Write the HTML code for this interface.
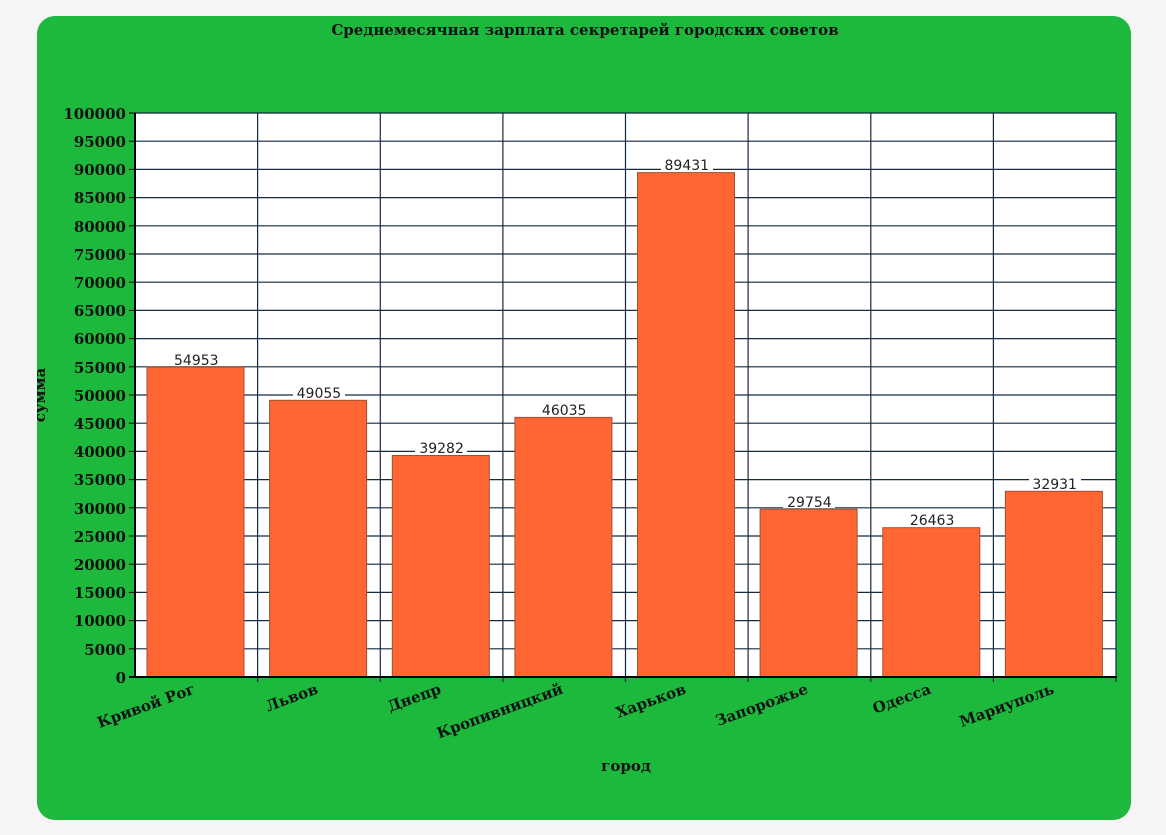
<!DOCTYPE html>
<html><head><meta charset="utf-8"><style>
html,body{margin:0;padding:0;background:#f5f5f5;width:1166px;height:835px;overflow:hidden}
svg{display:block}
.t{font-family:"DejaVu Serif","Liberation Serif",serif;font-weight:bold;fill:#111}
.v{font-family:"DejaVu Sans","Liberation Sans",sans-serif;font-size:14px;fill:#222}
</style></head><body>
<svg width="1166" height="835" xmlns="http://www.w3.org/2000/svg">
<rect x="37" y="16" width="1094" height="804" rx="18" fill="#1cb93c"/>
<text class="t" x="585" y="35" font-size="15" text-anchor="middle">Среднемесячная зарплата секретарей городских советов</text>
<rect x="135" y="113" width="981" height="564" fill="#fff"/>
<g stroke="#132a40" stroke-width="1.2">
<line x1="135" x2="1116" y1="113" y2="113"/><line x1="135" x2="1116" y1="141.2" y2="141.2"/><line x1="135" x2="1116" y1="169.4" y2="169.4"/><line x1="135" x2="1116" y1="197.6" y2="197.6"/><line x1="135" x2="1116" y1="225.8" y2="225.8"/><line x1="135" x2="1116" y1="254" y2="254"/><line x1="135" x2="1116" y1="282.2" y2="282.2"/><line x1="135" x2="1116" y1="310.4" y2="310.4"/><line x1="135" x2="1116" y1="338.6" y2="338.6"/><line x1="135" x2="1116" y1="366.8" y2="366.8"/><line x1="135" x2="1116" y1="395" y2="395"/><line x1="135" x2="1116" y1="423.2" y2="423.2"/><line x1="135" x2="1116" y1="451.4" y2="451.4"/><line x1="135" x2="1116" y1="479.6" y2="479.6"/><line x1="135" x2="1116" y1="507.8" y2="507.8"/><line x1="135" x2="1116" y1="536" y2="536"/><line x1="135" x2="1116" y1="564.2" y2="564.2"/><line x1="135" x2="1116" y1="592.4" y2="592.4"/><line x1="135" x2="1116" y1="620.6" y2="620.6"/><line x1="135" x2="1116" y1="648.8" y2="648.8"/>
<line x1="257.6" x2="257.6" y1="113" y2="682"/><line x1="380.3" x2="380.3" y1="113" y2="682"/><line x1="502.9" x2="502.9" y1="113" y2="682"/><line x1="625.5" x2="625.5" y1="113" y2="682"/><line x1="748.1" x2="748.1" y1="113" y2="682"/><line x1="870.8" x2="870.8" y1="113" y2="682"/><line x1="993.4" x2="993.4" y1="113" y2="682"/><line x1="1116" x2="1116" y1="113" y2="682"/>
</g>
<g stroke="#000" stroke-width="1">
<line x1="129" x2="135" y1="113" y2="113"/><line x1="129" x2="135" y1="141.2" y2="141.2"/><line x1="129" x2="135" y1="169.4" y2="169.4"/><line x1="129" x2="135" y1="197.6" y2="197.6"/><line x1="129" x2="135" y1="225.8" y2="225.8"/><line x1="129" x2="135" y1="254" y2="254"/><line x1="129" x2="135" y1="282.2" y2="282.2"/><line x1="129" x2="135" y1="310.4" y2="310.4"/><line x1="129" x2="135" y1="338.6" y2="338.6"/><line x1="129" x2="135" y1="366.8" y2="366.8"/><line x1="129" x2="135" y1="395" y2="395"/><line x1="129" x2="135" y1="423.2" y2="423.2"/><line x1="129" x2="135" y1="451.4" y2="451.4"/><line x1="129" x2="135" y1="479.6" y2="479.6"/><line x1="129" x2="135" y1="507.8" y2="507.8"/><line x1="129" x2="135" y1="536" y2="536"/><line x1="129" x2="135" y1="564.2" y2="564.2"/><line x1="129" x2="135" y1="592.4" y2="592.4"/><line x1="129" x2="135" y1="620.6" y2="620.6"/><line x1="129" x2="135" y1="648.8" y2="648.8"/>
</g>
<g fill="#ff6633" stroke="#a05030" stroke-width="1">
<rect x="147" y="367.1" width="97" height="309.9"/>
<rect x="269.6" y="400.3" width="97" height="276.7"/>
<rect x="392.3" y="455.5" width="97" height="221.5"/>
<rect x="514.9" y="417.4" width="97" height="259.6"/>
<rect x="637.5" y="172.6" width="97" height="504.4"/>
<rect x="760.1" y="509.2" width="97" height="167.8"/>
<rect x="882.8" y="527.7" width="97" height="149.3"/>
<rect x="1005.4" y="491.3" width="97" height="185.7"/>
</g>
<g stroke="#000" stroke-width="2"><line x1="135" x2="135" y1="113" y2="678"/><line x1="129" x2="1117" y1="677" y2="677"/></g>
<g fill="#fff">
<rect x="170" y="352" width="52" height="14"/><rect x="293" y="385" width="52" height="14"/><rect x="415" y="440" width="52" height="14"/><rect x="538" y="402" width="52" height="14"/><rect x="661" y="157" width="52" height="14"/><rect x="783" y="494" width="52" height="14"/><rect x="906" y="512" width="52" height="14"/><rect x="1029" y="476" width="52" height="14"/>
</g>
<g class="v" text-anchor="middle">
<text x="196.3" y="365">54953</text><text x="318.9" y="398">49055</text><text x="441.6" y="453">39282</text><text x="564.2" y="415">46035</text><text x="686.8" y="170">89431</text><text x="809.4" y="507">29754</text><text x="932.1" y="525">26463</text><text x="1054.7" y="489">32931</text>
</g>
<g class="t" font-size="15" text-anchor="end">
<text x="126" y="119">100000</text><text x="126" y="147">95000</text><text x="126" y="175">90000</text><text x="126" y="203">85000</text><text x="126" y="232">80000</text><text x="126" y="260">75000</text><text x="126" y="288">70000</text><text x="126" y="316">65000</text><text x="126" y="344">60000</text><text x="126" y="373">55000</text><text x="126" y="401">50000</text><text x="126" y="429">45000</text><text x="126" y="457">40000</text><text x="126" y="485">35000</text><text x="126" y="514">30000</text><text x="126" y="542">25000</text><text x="126" y="570">20000</text><text x="126" y="598">15000</text><text x="126" y="626">10000</text><text x="126" y="655">5000</text><text x="126" y="683">0</text>
</g>
<g class="t" font-size="15" text-anchor="end">
<text transform="translate(196,693) rotate(-20)">Кривой Рог</text>
<text transform="translate(319,693) rotate(-20)">Львов</text>
<text transform="translate(442,693) rotate(-20)">Днепр</text>
<text transform="translate(564,693) rotate(-20)">Кропивницкий</text>
<text transform="translate(687,693) rotate(-20)">Харьков</text>
<text transform="translate(809,693) rotate(-20)">Запорожье</text>
<text transform="translate(932,693) rotate(-20)">Одесса</text>
<text transform="translate(1055,693) rotate(-20)">Мариуполь</text>
</g>
<text class="t" font-size="15" x="626" y="771" text-anchor="middle">город</text>
<text class="t" font-size="15" transform="translate(45,395) rotate(-90)" text-anchor="middle">сумма</text>
</svg>
</body></html>
